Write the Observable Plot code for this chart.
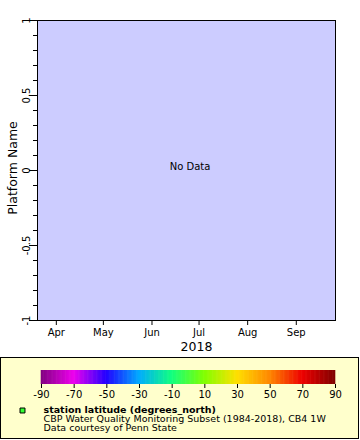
<!DOCTYPE html>
<html><head><meta charset="utf-8">
<script src="https://cdn.jsdelivr.net/npm/d3@7"></script>
<script src="https://cdn.jsdelivr.net/npm/@observablehq/plot@0.6"></script>
<style>
body{margin:0;background:#fff;font-family:"DejaVu Sans",sans-serif;}
#wrap{position:relative;width:360px;height:440px;overflow:hidden;}
#chart{position:absolute;left:0;top:0;}
#legend{position:absolute;left:0;top:357px;width:357px;height:80px;background:#ffffcc;border:1px solid #000;}
svg{display:block;}
</style></head><body>
<div id="wrap"><div id="chart"></div><div id="legend"></div></div>
<script>
// ---- data ----
const xStart = "2018-03-20";
const xEnd = "2018-09-26";
const monthTicks = ["2018-04-01","2018-05-01","2018-06-01","2018-07-01","2018-08-01","2018-09-01"];
const monthLabels = ["Apr","May","Jun","Jul","Aug","Sep"];
const yDomain = [-1, 1];
const yMajor = [-1, -0.5, 0, 0.5, 1];
const yMajorLabels = ["-1","-0.5","0","0.5","1"];
const yMinor = [-0.9,-0.8,-0.7,-0.6,-0.4,-0.3,-0.2,-0.1,0.1,0.2,0.3,0.4,0.6,0.7,0.8,0.9];
const xTitle = "2018";
const yTitle = "Platform Name";
const emptyMessage = "No Data";
const colorStops = [-90,-70,-50,-30,-10,10,30,50,70,90];
const colorValues = ["#800080","#ee00ee","#2200ff","#00aaff","#10ff80","#80ff00","#ffe000","#ff8800","#ee0000","#800000"];
const colorTickLabels = ["-90","-70","-50","-30","-10","10","30","50","70","90"];
const legendLines = ["station latitude (degrees_north)","CBP Water Quality Monitoring Subset (1984-2018), CB4 1W","Data courtesy of Penn State"];
const markerColor = "#33ff33";

const monthDates = monthTicks.map(d => new Date(d));
const fontFamily = "'DejaVu Sans', sans-serif";

const chart = Plot.plot({
  width: 360, height: 357,
  marginLeft: 37, marginRight: 25, marginTop: 20, marginBottom: 37,
  style: {fontFamily, fontSize: "10px", background: "white", color: "black"},
  x: {type: "utc", domain: [new Date(xStart), new Date(xEnd)]},
  y: {domain: yDomain},
  marks: [
    Plot.frame({fill: "#ccccff"}),
    Plot.frame({stroke: "black"}),
    Plot.axisX({ticks: monthDates, tickSize: 5, tickPadding: 3, label: null,
      tickFormat: d => monthLabels[monthDates.findIndex(m => +m === +d)]}),
    Plot.axisY({ticks: yMinor, tickSize: 4, label: null, tickFormat: () => ""}),
    Plot.axisY({ticks: yMajor, tickSize: 8, label: null, tickFormat: () => ""}),
    Plot.text(yMajor, {y: d => d, text: d => yMajorLabels[yMajor.indexOf(d)], frameAnchor: "left",
      rotate: -90, textAnchor: "middle", lineAnchor: "bottom", dx: -8, fontSize: 10}),
    Plot.text([yTitle], {frameAnchor: "left", rotate: -90, textAnchor: "middle", lineAnchor: "bottom",
      dx: -21, dy: -2.5, fontSize: 12.5}),
    Plot.text([xTitle], {frameAnchor: "bottom", textAnchor: "middle", lineAnchor: "bottom", dx: 10, dy: 30, fontSize: 12.5}),
    Plot.text([emptyMessage], {frameAnchor: "middle", textAnchor: "middle", lineAnchor: "bottom", dx: 3.5, dy: -1, fontSize: 10})
  ]
});
document.getElementById("chart").append(chart);

const bins = d3.range(colorStops[0], colorStops[colorStops.length - 1], 0.5);
const legend = Plot.plot({
  width: 357, height: 80,
  marginLeft: 40, marginRight: 23, marginTop: 12, marginBottom: 54,
  style: {fontFamily, fontSize: "10px", background: "transparent", color: "black", overflow: "visible"},
  x: {domain: [colorStops[0], colorStops[colorStops.length - 1]]},
  y: {domain: [0, 1], axis: null},
  color: {type: "linear", domain: colorStops, range: colorValues},
  marks: [
    Plot.rect(bins, {x1: d => d, x2: d => d + 0.5, y1: 0, y2: 1, fill: d => d + 0.25, insetLeft: -0.3, insetRight: -0.3}),
    Plot.axisX({ticks: colorStops, tickSize: 4, tickPadding: 2, label: null,
      tickFormat: d => colorTickLabels[colorStops.indexOf(d)]}),
    Plot.dot([markerColor], {frameAnchor: "bottom-left", dx: -19, dy: 26, symbol: "square", r: 2.8,
      fill: d => d, stroke: "black", strokeWidth: 1}),
    Plot.text([legendLines[0]], {frameAnchor: "bottom-left", textAnchor: "start", lineAnchor: "bottom", dx: 2, dy: 28, fontWeight: "bold", fontSize: 9.5}),
    Plot.text([legendLines[1]], {frameAnchor: "bottom-left", textAnchor: "start", lineAnchor: "bottom", dx: 2, dy: 37, fontSize: 9.5}),
    Plot.text([legendLines[2]], {frameAnchor: "bottom-left", textAnchor: "start", lineAnchor: "bottom", dx: 2, dy: 46, fontSize: 9.5})
  ]
});
document.getElementById("legend").append(legend);
</script>
</body></html>
